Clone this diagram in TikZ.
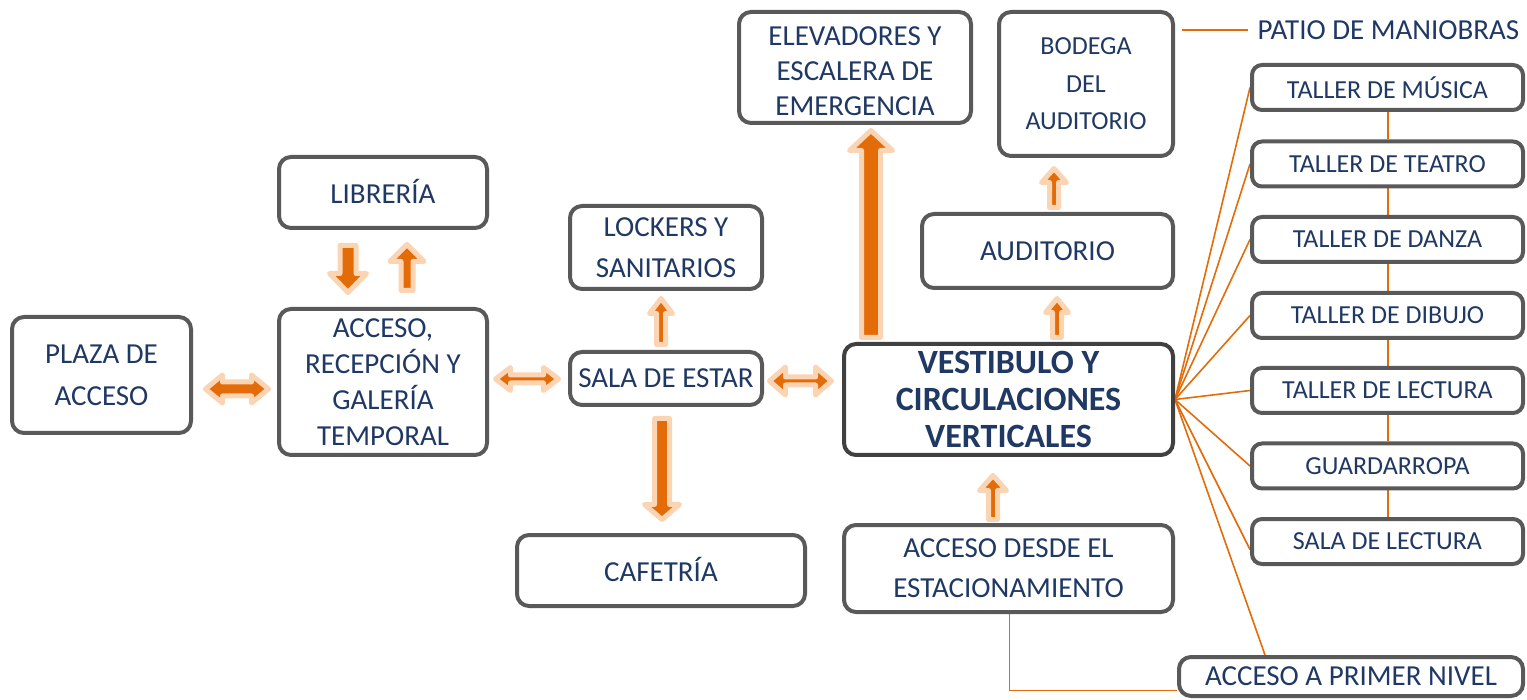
\documentclass[tikz,border=0pt]{standalone}
\usepackage{fontspec}
\setmainfont{Carlito}
\usetikzlibrary{calc}
\definecolor{txt}{HTML}{1F3864}
\definecolor{brd}{HTML}{595959}
\definecolor{brddark}{HTML}{404040}
\definecolor{org}{HTML}{E36C09}
\definecolor{pch}{HTML}{FBD4B4}
\pgfdeclarelayer{bg}
\pgfsetlayers{bg,main}
\tikzset{
  box/.style={draw=brd, line width=4pt, rounded corners=12pt, fill=white, text=txt,
    align=center, inner sep=0pt, font=\fontsize{29}{38}\selectfont},
  sbox/.style={box, rounded corners=10pt, font=\fontsize{26}{30}\selectfont,
    minimum width=271pt, minimum height=45pt},
  btext/.style={text=txt, align=center, inner sep=0pt},
  barr/.style={draw=pch, fill=org, line width=5pt, line join=round},
  conn/.style={draw=org, line width=1.6pt},
  vconn/.style={draw=org, line width=2pt},
}
% single block arrow: x, y of base centre, angle, length, shaft half, head half, head length
\newcommand{\barrow}[7]{%
  \begin{scope}[shift={(#1,#2)}, rotate=#3]
    \draw[barr] (0,-#5) -- (#4-#7,-#5) -- (#4-#7,-#6) -- (#4,0) -- (#4-#7,#6)
      -- (#4-#7,#5) -- (0,#5) -- cycle;
  \end{scope}}
% double horizontal block arrow: x left tip, y centre, length, shaft half, head half, head length
\newcommand{\darrow}[6]{%
  \begin{scope}[shift={(#1,#2)}]
    \draw[barr] (0,0) -- (#6,-#5) -- (#6,-#4) -- (#3-#6,-#4) -- (#3-#6,-#5) -- (#3,0)
      -- (#3-#6,#5) -- (#3-#6,#4) -- (#6,#4) -- (#6,#5) -- cycle;
  \end{scope}}
\begin{document}
\begin{tikzpicture}[x=1pt, y=-1pt]
\useasboundingbox (0,0) rectangle (1527,700);

% boxes
\node[box, minimum width=179pt, minimum height=116pt, font=\fontsize{29}{42}\selectfont]
  (plaza) at (101.5,375) {PLAZA DE\\ACCESO};
\node[box, minimum width=208pt, minimum height=146pt, font=\fontsize{29}{36}\selectfont]
  (acc) at (383,382) {ACCESO,\\RECEPCIÓN Y\\GALERÍA\\TEMPORAL};
\node[box, minimum width=208pt, minimum height=71pt] (lib) at (383,192.5) {\raisebox{2pt}{LIBRERÍA}};
\node[box, minimum width=192pt, minimum height=83pt, font=\fontsize{29}{41}\selectfont]
  (lock) at (666,247.5) {LOCKERS Y\\SANITARIOS};
\node[box, minimum width=192pt, minimum height=53pt] (sala) at (666,378.5) {SALA DE ESTAR};
\node[box, minimum width=288pt, minimum height=71pt] (cafe) at (661,570.5) {\raisebox{2pt}{CAFETRÍA}};
\node[box, minimum width=232pt, minimum height=111pt] (elev) at (855,67.5) {};
\node[btext, font=\fontsize{29}{35}\selectfont] (elevt) at (855,71)
  {ELEVADORES Y\\ESCALERA DE\\EMERGENCIA};
\node[box, minimum width=174pt, minimum height=144pt, font=\fontsize{26}{37.5}\selectfont]
  (bod) at (1086,84) {BODEGA\\DEL\\AUDITORIO};
\node[box, minimum width=251pt, minimum height=74pt] (aud) at (1047.5,251) {AUDITORIO};
\node[box, draw=brddark, minimum width=329pt, minimum height=111pt,
  font=\fontsize{34}{37}\selectfont\bfseries]
  (vest) at (1008.5,399.5) {VESTIBULO Y\\CIRCULACIONES\\VERTICALES};
\node[box, minimum width=329pt, minimum height=87pt, font=\fontsize{29}{40}\selectfont]
  (est) at (1008.5,568.5) {ACCESO DESDE EL\\ESTACIONAMIENTO};

\node[sbox] (mus) at (1387.5,87.5) {TALLER DE MÚSICA};
\node[sbox] (tea) at (1387.5,164) {TALLER DE TEATRO};
\node[sbox] (dan) at (1387.5,239.5) {TALLER DE DANZA};
\node[sbox] (dib) at (1387.5,315.5) {TALLER DE DIBUJO};
\node[sbox] (lec) at (1387.5,390.5) {TALLER DE LECTURA};
\node[sbox] (gua) at (1387.5,466) {GUARDARROPA};
\node[sbox] (sl) at (1387.5,541.5) {SALA DE LECTURA};
\node[box, minimum width=344pt, minimum height=39pt] (pn) at (1351,676.5) {ACCESO A PRIMER NIVEL};

\node[text=txt, inner sep=0pt, font=\fontsize{29}{34}\selectfont] (patio) at (1388.5,30) {PATIO DE MANIOBRAS};

% connectors
\begin{pgfonlayer}{bg}
  \draw[conn] ([xshift=7pt]bod.east |- patio.west) -- ([xshift=-10pt]patio.west);
  \foreach \a/\b in {mus/tea, tea/dan, dan/dib, dib/lec, lec/gua, gua/sl}
    \draw[vconn] ([xshift=0.5pt]\a.south) -- ([xshift=0.5pt]\b.north);
  \draw[conn] (vest.east) -- (mus.west);
  \draw[conn] (vest.east) -- (tea.west);
  \draw[conn] (vest.east) -- (dan.west);
  \draw[conn] (vest.east) -- (dib.west);
  \draw[conn] (vest.east) -- (lec.west);
  \draw[conn] (vest.east) -- (gua.west);
  \draw[conn] (vest.east) -- ([yshift=-8pt]sl.west);
  \draw[conn] (vest.east) -- ([xshift=88pt]pn.north west);
  \draw[conn] ([xshift=1pt]est.south) |- ([yshift=-14pt]pn.west);
\end{pgfonlayer}

% block arrows
\darrow{205.5}{389}{63}{7}{14}{17}
\barrow{348}{245.5}{-90}{47}{8}{18.5}{19}
\barrow{407}{290.5}{90}{46}{6}{17}{17}
\darrow{495.5}{379}{63}{4}{11.5}{15}
\darrow{769.5}{381}{62}{4}{14}{16}
\barrow{661}{344.5}{90}{46}{4.5}{11.5}{15}
\barrow{662}{418.5}{-90}{101}{7.5}{17.5}{15}
\barrow{871}{337.5}{90}{207}{9.5}{21.5}{20}
\barrow{1057}{337.5}{90}{39}{4.5}{11.5}{14}
\barrow{1054}{207.5}{90}{39}{4.5}{12.5}{14}
\barrow{993}{519.5}{90}{44}{4.5}{13.5}{15}
\end{tikzpicture}
\end{document}
